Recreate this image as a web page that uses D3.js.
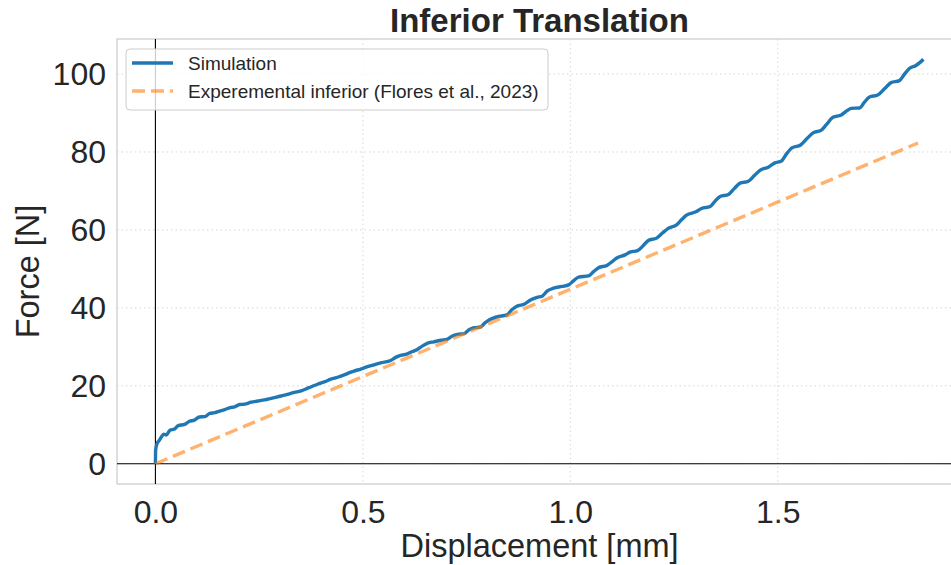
<!DOCTYPE html>
<html>
<head>
<meta charset="utf-8">
<script src="https://cdn.jsdelivr.net/npm/d3@7"></script>
<style>
  body { margin: 0; background: #fff; }
  svg { display: block; font-family: "Liberation Sans", Arial, sans-serif; }
</style>
</head>
<body>
<svg id="chart" width="951" height="565"></svg>
<script>
// simulation curve
const simDisp = [0, 0.0005, 0.004, 0.008, 0.014, 0.02, 0.026, 0.035, 0.046, 0.055, 0.07, 0.082, 0.094, 0.106,
  0.119, 0.131, 0.143, 0.155, 0.167, 0.18, 0.191, 0.203, 0.215, 0.231, 0.247, 0.263, 0.279, 0.295, 0.311,
  0.335, 0.351, 0.367, 0.391, 0.407, 0.423, 0.439, 0.455, 0.471, 0.479, 0.495, 0.511, 0.527, 0.543, 0.567,
  0.579, 0.591, 0.607, 0.619, 0.631, 0.643, 0.655, 0.671, 0.688, 0.704, 0.716, 0.728, 0.744, 0.756, 0.768,
  0.783, 0.795, 0.806, 0.823, 0.847, 0.859, 0.871, 0.89, 0.904, 0.92, 0.932, 0.944, 0.958, 0.98, 0.996,
  1.008, 1.02, 1.044, 1.056, 1.068, 1.088, 1.1, 1.112, 1.132, 1.144, 1.162, 1.176, 1.188, 1.208, 1.222,
  1.236, 1.256, 1.268, 1.28, 1.304, 1.316, 1.337, 1.349, 1.361, 1.381, 1.395, 1.409, 1.429, 1.443, 1.457,
  1.477, 1.493, 1.509, 1.521, 1.535, 1.555, 1.571, 1.585, 1.605, 1.617, 1.633, 1.653, 1.667, 1.677, 1.697,
  1.709, 1.721, 1.741, 1.757, 1.773, 1.793, 1.805, 1.817, 1.833, 1.843, 1.851];
const simForce = [0, 3.5, 5.2, 5.8, 6.8, 7.6, 7.4, 8.6, 8.9, 9.8, 10.1, 10.9, 11.2, 12.0,
  12.1, 12.9, 13.1, 13.5, 13.9, 14.4, 14.6, 15.2, 15.3, 15.8, 16.1, 16.4, 16.8, 17.2, 17.6,
  18.3, 18.7, 19.4, 20.4, 21.0, 21.7, 22.2, 22.8, 23.5, 23.8, 24.3, 24.9, 25.4, 25.9, 26.5,
  27.3, 27.8, 28.2, 28.8, 29.3, 30.2, 30.9, 31.3, 31.7, 32.0, 32.8, 33.2, 33.4, 34.4, 34.9,
  35.1, 36.2, 37.0, 37.7, 38.2, 39.5, 40.4, 41.0, 42.0, 42.7, 43.0, 44.3, 45.0, 45.5, 45.9,
  47.0, 47.9, 48.2, 49.3, 50.3, 50.9, 51.8, 52.8, 53.6, 54.3, 54.7, 56.0, 57.3, 57.9, 59.2,
  60.4, 61.3, 62.6, 63.8, 64.7, 65.5, 66.0, 67.4, 68.6, 69.1, 70.6, 72.0, 72.5, 73.9, 75.3,
  76.1, 77.2, 77.7, 79.5, 81.1, 81.8, 83.5, 84.9, 85.6, 87.0, 88.9, 89.5, 90.6, 91.2, 91.3,
  92.8, 94.1, 94.6, 96.2, 97.8, 98.3, 99.9, 101.4, 102.2, 103.0, 103.8];

// experimental fit (straight line)
const expDisp = [0, 1.838];
const expForce = [0, 82.3];

const xTicks = [0, 0.5, 1.0, 1.5];
const yTicks = [0, 20, 40, 60, 80, 100];
const seriesNames = ["Simulation", "Experemental inferior (Flores et al., 2023)"];

const svg = d3.select("#chart");
const plotL = 117, plotR = 962, plotT = 39, plotB = 484;

const x = d3.scaleLinear().domain([-0.0926, 1.944]).range([plotL, plotR]);
const y = d3.scaleLinear().domain([-5.19, 108.99]).range([plotB, plotT]);

// grid
const grid = svg.append("g");
grid.selectAll(".gx").data(xTicks).enter().append("line")
  .attr("x1", d => x(d)).attr("x2", d => x(d))
  .attr("y1", plotT).attr("y2", plotB)
  .attr("stroke", "#d6d6d6").attr("stroke-width", 1).attr("stroke-dasharray", "1.5,3");
grid.selectAll(".gy").data(yTicks).enter().append("line")
  .attr("x1", plotL).attr("x2", plotR)
  .attr("y1", d => y(d)).attr("y2", d => y(d))
  .attr("stroke", "#d6d6d6").attr("stroke-width", 1).attr("stroke-dasharray", "1.5,3");

// frame
svg.append("rect")
  .attr("x", plotL).attr("y", plotT)
  .attr("width", plotR - plotL).attr("height", plotB - plotT)
  .attr("fill", "none").attr("stroke", "#cccccc").attr("stroke-width", 1.25);

// zero lines
svg.append("line")
  .attr("x1", plotL).attr("x2", plotR).attr("y1", y(0)).attr("y2", y(0))
  .attr("stroke", "#000").attr("stroke-width", 1.1);
svg.append("line")
  .attr("x1", x(0)).attr("x2", x(0)).attr("y1", plotT).attr("y2", plotB)
  .attr("stroke", "#000").attr("stroke-width", 1.1);

// axes (labels only)
const xAxis = svg.append("g")
  .attr("transform", `translate(0,${plotB})`)
  .call(d3.axisBottom(x).tickValues(xTicks).tickFormat(d3.format(".1f")).tickSize(0).tickPadding(16));
const yAxis = svg.append("g")
  .attr("transform", `translate(${plotL},0)`)
  .call(d3.axisLeft(y).tickValues(yTicks).tickFormat(d3.format("d")).tickSize(0).tickPadding(11));
[xAxis, yAxis].forEach(a => {
  a.select(".domain").remove();
  a.selectAll("text")
    .attr("font-size", 32)
    .attr("font-family", "Liberation Sans, Arial, sans-serif")
    .attr("fill", "#262626");
});

// lines
const line = d3.line().x(d => x(d[0])).y(d => y(d[1])).curve(d3.curveMonotoneX);
svg.append("path")
  .datum(simDisp.map((d, i) => [d, simForce[i]]))
  .attr("d", line)
  .attr("fill", "none").attr("stroke", "#1f77b4").attr("stroke-width", 3.4)
  .attr("stroke-linejoin", "round");
svg.append("path")
  .datum(expDisp.map((d, i) => [d, expForce[i]]))
  .attr("d", line)
  .attr("fill", "none").attr("stroke", "#ff7f0e").attr("stroke-opacity", 0.6)
  .attr("stroke-width", 3.4).attr("stroke-dasharray", "13,6");

// title and axis labels
svg.append("text")
  .attr("x", (plotL + plotR) / 2).attr("y", 32)
  .attr("text-anchor", "middle")
  .attr("font-size", 33).attr("font-weight", "bold").attr("fill", "#262626")
  .text("Inferior Translation");
svg.append("text")
  .attr("x", (plotL + plotR) / 2).attr("y", 557)
  .attr("text-anchor", "middle")
  .attr("font-size", 32.5).attr("fill", "#262626")
  .text("Displacement [mm]");
svg.append("text")
  .attr("transform", `translate(39,${(plotT + plotB) / 2 + 10}) rotate(-90)`)
  .attr("text-anchor", "middle")
  .attr("font-size", 32.5).attr("fill", "#262626")
  .text("Force [N]");

// legend
const lg = svg.append("g");
lg.append("rect")
  .attr("x", 126).attr("y", 49).attr("width", 422).attr("height", 61).attr("rx", 4)
  .attr("fill", "#fff").attr("fill-opacity", 0.8)
  .attr("stroke", "#cccccc").attr("stroke-width", 1);
const items = lg.selectAll(".item").data(seriesNames).enter().append("g")
  .attr("transform", (d, i) => `translate(0,${63 + i * 28})`);
items.append("line")
  .attr("x1", 132).attr("x2", 173)
  .attr("stroke", (d, i) => i === 0 ? "#1f77b4" : "#ff7f0e")
  .attr("stroke-opacity", (d, i) => i === 0 ? 1 : 0.6)
  .attr("stroke-width", 3.4)
  .attr("stroke-dasharray", (d, i) => i === 0 ? null : "13,6");
items.append("text")
  .attr("x", 188).attr("y", 7)
  .attr("font-size", 19).attr("fill", "#262626")
  .text(d => d);
</script>
</body>
</html>
